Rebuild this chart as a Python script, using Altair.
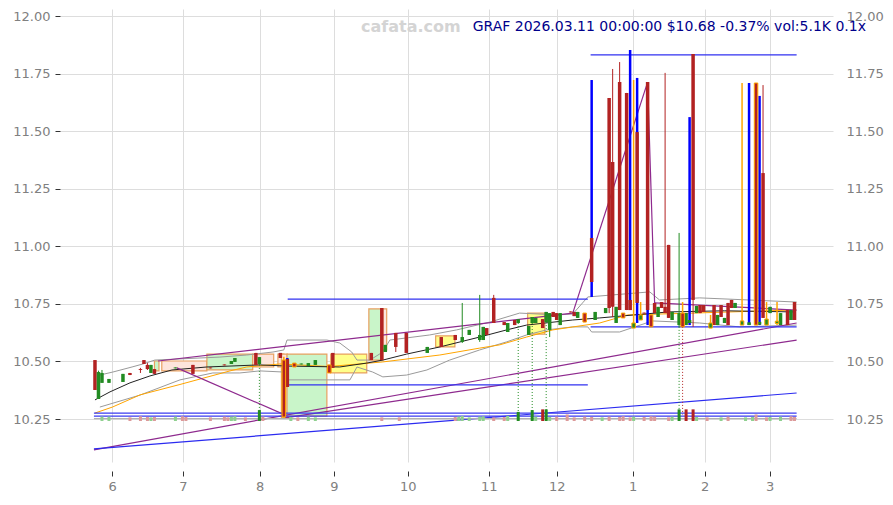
import altair as alt
import pandas as pd

# ---------------- intraday price bars (bar index, OHLC, marker kind) ----------------
# kind: n = normal, b = blue-flagged bar, o = orange-flagged bar
bar = [0, 1, 2, 4, 8, 10, 13, 14, 15, 16, 17, 23, 28, 33, 37, 39, 40, 46, 47,
       53, 54, 55, 57, 59, 61, 63, 67, 68, 79, 82, 83, 86, 89, 95, 99, 103, 105,
       107, 110, 111, 112, 114, 117, 118, 120, 121, 124, 125, 126, 128, 129, 130,
       131, 132, 133, 136, 137, 138, 140, 142, 143, 146, 147, 148, 149, 150, 151,
       152, 153, 154, 155, 156, 157, 158, 159, 160, 161, 162, 163, 164, 165, 167,
       168, 169, 170, 171, 172, 173, 174, 176, 177, 178, 179, 180, 181, 182, 183,
       185, 187, 189, 190, 191, 192, 193, 195, 196, 198, 199, 200]
open_ = [10.506, 10.337, 10.407, 10.407, 10.411, 10.450, 10.467, 10.506, 10.485, 10.450, 10.467, 10.470, 10.485, 10.474, 10.487, 10.489, 10.498, 10.537, 10.489,
         10.537, 10.506, 10.511, 10.493, 10.487, 10.480, 10.485, 10.485, 10.537, 10.537, 10.732, 10.541, 10.624, 10.624, 10.537, 10.606, 10.615, 10.585,
         10.615, 10.593, 10.593, 10.645, 10.776, 10.671, 10.628, 10.680, 10.667, 10.615, 10.667, 10.667, 10.684, 10.671, 10.637,
         10.715, 10.710, 10.658, 10.717, 10.715, 10.689, 10.710, 11.036, 10.680, 10.710, 11.644, 11.366, 10.667, 11.713, 10.710,
         11.666, 10.767, 10.645, 11.496, 10.680, 10.712, 11.713, 10.702, 10.754, 10.693, 10.758, 10.737, 11.006, 10.680, 10.658,
         10.710, 10.658, 10.667, 11.835, 10.710, 10.745, 10.745, 10.645, 10.745, 10.658, 10.745, 10.667, 10.754, 10.767, 10.732,
         10.658, 10.658, 11.709, 10.660, 11.318, 10.658, 10.710, 10.665, 10.658, 10.723, 10.680, 10.758]
high = [10.506, 10.460, 10.463, 10.424, 10.446, 10.450, 10.472, 10.506, 10.493, 10.485, 10.467, 10.474, 10.485, 10.474, 10.487, 10.502, 10.515, 10.537, 10.519,
        10.537, 10.520, 10.515, 10.493, 10.491, 10.493, 10.506, 10.485, 10.537, 10.537, 10.732, 10.572, 10.624, 10.624, 10.563, 10.606, 10.615, 10.754,
        10.637, 10.789, 10.650, 10.645, 10.789, 10.671, 10.667, 10.680, 10.684, 10.654, 10.693, 10.689, 10.684, 10.715, 10.710,
        10.715, 10.710, 10.710, 10.717, 10.715, 10.715, 10.710, 11.722, 10.715, 10.732, 11.644, 11.770, 10.737, 11.800, 10.710,
        11.666, 11.852, 11.722, 11.731, 10.758, 10.712, 11.713, 10.702, 10.754, 10.737, 10.758, 11.753, 11.006, 10.715, 11.058,
        10.758, 10.710, 11.561, 11.835, 10.741, 10.745, 10.745, 10.702, 10.745, 10.702, 10.745, 10.689, 10.754, 10.767, 10.754,
        11.709, 11.709, 11.709, 11.653, 11.700, 10.758, 10.737, 10.758, 10.710, 10.723, 10.723, 10.758]
low = [10.376, 10.337, 10.407, 10.407, 10.411, 10.441, 10.450, 10.489, 10.463, 10.450, 10.446, 10.470, 10.446, 10.470, 10.483, 10.489, 10.498, 10.485, 10.485,
       10.515, 10.255, 10.389, 10.476, 10.487, 10.480, 10.485, 10.450, 10.472, 10.506, 10.506, 10.541, 10.541, 10.537, 10.537, 10.563, 10.593, 10.580,
       10.615, 10.585, 10.593, 10.615, 10.667, 10.658, 10.628, 10.658, 10.667, 10.615, 10.667, 10.667, 10.645, 10.671, 10.606,
       10.693, 10.680, 10.658, 10.713, 10.697, 10.689, 10.671, 10.780, 10.680, 10.710, 10.710, 10.693, 10.667, 10.723, 10.689,
       10.723, 10.723, 10.645, 10.667, 10.680, 10.708, 10.658, 10.650, 10.710, 10.693, 10.732, 10.710, 10.689, 10.680, 10.650,
       10.650, 10.658, 10.658, 10.650, 10.710, 10.710, 10.715, 10.645, 10.658, 10.658, 10.693, 10.667, 10.658, 10.732, 10.732,
       10.658, 10.658, 10.658, 10.658, 10.689, 10.658, 10.710, 10.658, 10.658, 10.658, 10.680, 10.680]
close = [10.376, 10.454, 10.450, 10.424, 10.446, 10.441, 10.463, 10.489, 10.467, 10.485, 10.446, 10.474, 10.446, 10.470, 10.483, 10.502, 10.515, 10.485, 10.519,
         10.515, 10.259, 10.389, 10.476, 10.491, 10.493, 10.506, 10.450, 10.472, 10.506, 10.506, 10.572, 10.563, 10.537, 10.563, 10.563, 10.593, 10.606,
         10.637, 10.615, 10.650, 10.615, 10.667, 10.658, 10.667, 10.658, 10.684, 10.654, 10.693, 10.689, 10.645, 10.715, 10.710,
         10.693, 10.680, 10.710, 10.713, 10.697, 10.715, 10.671, 10.845, 10.715, 10.732, 10.732, 10.737, 10.737, 10.723, 10.689,
         10.723, 10.723, 10.667, 10.754, 10.702, 10.708, 10.723, 10.650, 10.710, 10.737, 10.732, 10.710, 10.689, 10.715, 10.710,
         10.650, 10.710, 10.680, 10.767, 10.741, 10.710, 10.715, 10.667, 10.658, 10.702, 10.693, 10.689, 10.658, 10.732, 10.754,
         10.676, 10.670, 10.658, 10.672, 10.689, 10.684, 10.737, 10.675, 10.710, 10.658, 10.723, 10.680]
kind = list("nnnnnnnnnnnnnnnnnnn"
            "bobonnnonnnnnnnnnn"
            "nnnnnnnnnnnnnbn"
            "nnnnbnobnnnnnno"
            "nbobonbobnnnnnn"
            "onbnnnnonnnnnnb"
            "obobnobonnbn")

# ---------------- volume (bar index, size in hundreds, direction) ----------------
vol_bar = [2, 4, 10, 13, 15, 16, 17, 23, 25, 26, 33, 37, 38, 39, 40, 43, 47, 48, 56, 58,
           61, 63, 82, 87, 103, 104, 105, 107, 110, 111, 114, 117, 118, 121, 125, 126, 128, 129,
           130, 132, 135, 137, 140, 142, 145, 147, 150, 151, 153, 154, 157, 159, 160, 164, 165,
           167, 169, 171, 172, 175, 179, 181, 186, 188, 189, 192, 193, 196, 199, 200]
vol = [1.2, 1.2, 1.0, 1.3, 1.1, 1.0, 1.1, 1.2, 1.3, 1.1, 1.0, 1.2, 1.0, 1.2, 1.3, 1.0, 3.0, 1.2, 1.1, 1.0,
       1.2, 1.0, 1.0, 1.0, 1.1, 1.2, 1.4, 1.0, 1.2, 1.3, 1.0, 1.1, 1.4, 2.5, 3.0, 1.2, 3.2, 3.2,
       1.1, 1.2, 1.8, 1.0, 1.2, 1.1, 1.0, 1.2, 1.1, 1.3, 1.0, 1.2, 1.1, 1.3, 1.2, 1.0, 1.2,
       3.2, 3.2, 3.2, 1.1, 1.0, 1.0, 1.2, 1.0, 1.1, 1.8, 1.0, 1.1, 1.2, 1.3, 1.1]
vol_dir = list("ggrrrgrgrrrrrggrgrgr"
               "ggrrrgggggrrggggrg"
               "grrrrrgrrrrgrrrrg"
               "grrgrgrggrrggrr")

# high-volume bars linked to their candles
spike_bar = [47, 121, 125, 129, 167, 168]
spike_top = [10.485, 10.667, 10.667, 10.671, 10.650, 10.650]
spike_dir = ["g", "g", "g", "g", "g", "r"]

# ---------------- indicator curves ----------------
ma_fast_bar = [0, 4.3, 10, 15.7, 22, 32, 47, 55, 70, 77.7, 82.3, 89.1, 98.6, 110, 117.7, 123.4,
               136.6, 144.3, 164, 180, 200]
ma_fast = [10.333, 10.368, 10.407, 10.437, 10.463, 10.476, 10.485, 10.480, 10.476, 10.493, 10.506,
           10.532, 10.563, 10.606, 10.637, 10.658, 10.680, 10.689, 10.715, 10.720, 10.715]
ma_slow_bar = [0, 5, 12.9, 24.3, 38.6, 43.4, 52.9, 67, 82.3, 98.6, 110, 115.7, 123.4, 130.9, 144.3,
               152.3, 171, 199]
ma_slow = [10.276, 10.302, 10.355, 10.400, 10.459, 10.476, 10.489, 10.478, 10.498, 10.528, 10.558,
           10.572, 10.606, 10.637, 10.667, 10.702, 10.710, 10.723]
band_up_bar = [1.4, 5.1, 10.6, 13.7, 17.1, 24.3, 35.7, 43.4, 50.9, 54, 54.9, 66.3, 70, 73.4, 74.9,
               78.6, 82.3, 84.3, 95.7, 103.4, 112.9, 121.4, 132, 136.6, 140.9, 158.6, 161.4, 172.9, 200.6]
band_up = [10.441, 10.454, 10.476, 10.489, 10.506, 10.511, 10.519, 10.528, 10.541, 10.550, 10.593,
           10.593, 10.580, 10.541, 10.506, 10.506, 10.541, 10.593, 10.615, 10.637, 10.671, 10.710,
           10.702, 10.706, 10.780, 10.802, 10.767, 10.776, 10.758]
band_lo_bar = [1.4, 12.9, 24.3, 33.7, 41.4, 47.1, 54, 54.9, 72.9, 74.9, 79.4, 82.3, 89.1, 94.9, 101.4,
               110, 117.7, 123.4, 129.1, 136.6, 140.9, 142, 150, 159.4, 172.9, 184.3, 200.6]
band_lo = [10.302, 10.354, 10.420, 10.450, 10.450, 10.459, 10.454, 10.420, 10.420, 10.476, 10.454,
           10.433, 10.441, 10.463, 10.506, 10.550, 10.585, 10.615, 10.637, 10.650, 10.650, 10.628,
           10.628, 10.676, 10.667, 10.650, 10.658]

# ---------------- straight studies (from bar/price to bar/price) ----------------
seg_name = ["trend_a", "trend_b", "channel", "swing", "swing", "swing", "swing",
            "trend_c", "floor", "floor", "range", "range", "range", "range", "base"]
seg_x1 = [-0.3, 54.3, 18, 23.4, 136.6, 158, 160, -0.3, -0.3, -0.3, 55.1, 55.1, 141.7, 141.7, -0.3]
seg_y1 = [10.116, 10.255, 10.502, 10.472, 10.710, 11.713, 10.754, 10.120, 10.276, 10.263,
          10.771, 10.398, 11.831, 10.650, 10.252]
seg_x2 = [200.6, 200.6, 136.6, 54.3, 158, 160, 200.6, 200.6, 200.6, 200.6, 140.9, 140.9, 200.6, 200.6, 200.6]
seg_y2 = [10.667, 10.593, 10.710, 10.268, 11.713, 10.754, 10.723, 10.363, 10.276, 10.263,
          10.771, 10.398, 11.831, 10.650, 10.252]

# ---------------- consolidation boxes ----------------
box_x1 = [17, 19.1, 32, 45.1, 52.3, 53.3, 54.9, 67.4, 78.3, 82.3, 97.4, 123.7]
box_x2 = [18.3, 32, 45.1, 51.1, 54, 55, 66.3, 77.7, 82.3, 83.4, 102.9, 128.6]
box_top = [10.502, 10.502, 10.532, 10.532, 10.532, 10.532, 10.532, 10.532, 10.728, 10.728, 10.611, 10.710]
box_bot = [10.459, 10.459, 10.463, 10.476, 10.476, 10.255, 10.263, 10.450, 10.506, 10.550, 10.563, 10.619]
box_kind = ["up", "down", "up", "down", "down", "down", "up", "flat", "up", "down", "flat", "flat"]

# ---------------- axes ----------------
hour_bar = [4.9, 25.1, 47.1, 68.3, 89.4, 112.6, 132, 153.7, 174.3, 192.9]
hour_label = ["6", "7", "8", "9", "10", "11", "12", "1", "2", "3"]
price_ticks = [10.25, 10.5, 10.75, 11.0, 11.25, 11.5, 11.75, 12.0]
title_text = "GRAF 2026.03.11 00:00:00 $10.68 -0.37% vol:5.1K 0.1x"
brand_text = "cafata.com"

X_DOMAIN = [-10, 211]
Y_DOMAIN = [10.0634, 12.0304]

GREEN = "#228b22"
RED = "#b22222"
ORANGE = "#ffa500"
BLUE = "#0000ff"
PURPLE = "#8e2a8e"
BODY = 3.5

label_expr = ("[" + ",".join(f"'{h}'" for h in hour_label) + "][indexof(["
              + ",".join(str(b) for b in hour_bar) + "], datum.value)]")

x_axis = alt.Axis(values=hour_bar, labelExpr=label_expr, title=None, orient="bottom",
                  offset=9, tickSize=5, tickColor="#333333", domain=False, grid=True,
                  gridColor="#dddddd", labelPadding=4)
y_axis = alt.Axis(values=price_ticks, format=".2f", title=None, orient="left", tickSize=5,
                  tickColor="#333333", domain=False, grid=True, gridColor="#dddddd",
                  labelPadding=5)
y_axis_right = alt.Axis(values=price_ticks, format=".2f", title=None, orient="right",
                        ticks=False, domain=False, grid=False, labelPadding=13)


def X(field="bar"):
    return alt.X(f"{field}:Q", axis=x_axis,
                 scale=alt.Scale(domain=X_DOMAIN, nice=False, zero=False, padding=0))


def Y(field):
    return alt.Y(f"{field}:Q", axis=y_axis,
                 scale=alt.Scale(domain=Y_DOMAIN, nice=False, zero=False, padding=0))


candles = pd.DataFrame({"bar": bar, "open": open_, "high": high, "low": low,
                        "close": close, "kind": kind})
volume = pd.DataFrame({"bar": vol_bar, "vol": vol, "dir": vol_dir})
spikes = pd.DataFrame({"bar": spike_bar, "top": spike_top, "dir": spike_dir,
                       "foot": [10.27] * len(spike_bar)})
boxes = pd.DataFrame({"x1": box_x1, "x2": box_x2, "top": box_top, "bot": box_bot, "kind": box_kind})
segs = pd.DataFrame({"name": seg_name, "x1": seg_x1, "y1": seg_y1, "x2": seg_x2, "y2": seg_y2,
                     "id": list(range(len(seg_name)))})

curves = pd.concat([
    pd.DataFrame({"series": "band_up", "bar": band_up_bar, "price": band_up}),
    pd.DataFrame({"series": "band_lo", "bar": band_lo_bar, "price": band_lo}),
    pd.DataFrame({"series": "ma_slow", "bar": ma_slow_bar, "price": ma_slow}),
    pd.DataFrame({"series": "ma_fast", "bar": ma_fast_bar, "price": ma_fast}),
], ignore_index=True)

up_cond = "datum.close >= datum.open"

box_layer = alt.Chart(boxes).mark_rect(stroke="#e8a060", strokeWidth=1.2).encode(
    x=X("x1"), x2="x2:Q", y=Y("top"), y2="bot:Q",
    fill=alt.Fill("kind:N", scale=alt.Scale(domain=["up", "down", "flat"],
                                            range=["#c9f5c9", "#fde5dc", "#ffff8a"]), legend=None),
)

curve_layer = alt.Chart(curves).mark_line(strokeWidth=1).encode(
    x=X(), y=Y("price"),
    color=alt.Color("series:N", scale=alt.Scale(domain=["band_up", "band_lo", "ma_slow", "ma_fast"],
                                                range=["#9a9a9a", "#9a9a9a", ORANGE, "#222222"]),
                    legend=None),
    detail="series:N",
)

seg_layer = alt.Chart(segs).mark_rule(strokeWidth=1.2).encode(
    x=X("x1"), x2="x2:Q", y=Y("y1"), y2="y2:Q",
    color=alt.Color("name:N", scale=alt.Scale(
        domain=["trend_a", "trend_b", "channel", "swing", "trend_c", "floor", "range", "base"],
        range=[PURPLE, PURPLE, PURPLE, PURPLE, "#2b2bf0", "#3a3af0", "#3030f0", "#b0b0b0"]),
        legend=None),
    detail="id:N",
)

spike_layer = alt.Chart(spikes).mark_rule(strokeWidth=1, strokeDash=[1, 2]).encode(
    x=X(), y=Y("top"), y2="foot:Q",
    color=alt.Color("dir:N", scale=alt.Scale(domain=["g", "r"], range=[GREEN, RED]), legend=None),
)

wick_n = alt.Chart(candles).transform_filter("datum.kind == 'n'").mark_rule(strokeWidth=1).encode(
    x=X(), y=Y("low"), y2="high:Q",
    color=alt.condition(up_cond, alt.value(GREEN), alt.value(RED)),
)
wick_b = alt.Chart(candles).transform_filter("datum.kind == 'b'").mark_rule(
    strokeWidth=2.5, color=BLUE).encode(x=X(), y=Y("low"), y2="high:Q")
wick_o = alt.Chart(candles).transform_filter("datum.kind == 'o'").mark_rule(
    strokeWidth=1.5, color=ORANGE).encode(x=X(), y=Y("low"), y2="high:Q")

body_plain = alt.Chart(candles).transform_filter("datum.kind != 'o'").mark_bar(size=BODY).encode(
    x=X(), y=Y("open"), y2="close:Q",
    color=alt.condition(up_cond, alt.value(GREEN), alt.value(RED)),
)
body_orange = alt.Chart(candles).transform_filter("datum.kind == 'o'").mark_bar(
    size=BODY, stroke=ORANGE, strokeWidth=1).encode(
    x=X(), y=Y("open"), y2="close:Q",
    color=alt.condition(up_cond, alt.value(GREEN), alt.value(RED)),
)

price_panel = alt.layer(box_layer, curve_layer, seg_layer, spike_layer,
                        wick_n, wick_b, wick_o, body_plain, body_orange
                        ).resolve_scale(color="independent", fill="independent")

right_axis = alt.Chart(candles).mark_point(opacity=0).encode(
    x=X(),
    y=alt.Y("close:Q", axis=y_axis_right,
            scale=alt.Scale(domain=Y_DOMAIN, nice=False, zero=False, padding=0)),
)

volume_layer = alt.Chart(volume).mark_bar(size=3).encode(
    x=X(),
    y=alt.Y("vol:Q", scale=alt.Scale(domain=[0, 3.3], range=[412, 400]), axis=None),
    color=alt.Color("shade:N", scale=alt.Scale(domain=["g", "r", "G", "R"],
                                               range=["#8fd08f", "#dc9a9a", GREEN, RED]),
                    legend=None),
).transform_calculate(
    shade="datum.vol >= 2.5 ? upper(datum.dir) : datum.dir"
)

brand = alt.Chart(pd.DataFrame({"t": [brand_text]})).mark_text(
    align="left", baseline="middle", font="DejaVu Sans", fontSize=16, fontWeight="bold",
    color="#d4d4d4").encode(text="t:N", x=alt.value(301), y=alt.value(18))

title = alt.Chart(pd.DataFrame({"t": [title_text]})).mark_text(
    align="right", baseline="middle", font="DejaVu Sans", fontSize=14,
    color="#00008b").encode(text="t:N", x=alt.value(806), y=alt.value(18))

chart = alt.layer(price_panel, right_axis, volume_layer, brand, title).resolve_scale(
    y="independent", color="independent"
).properties(
    width=773, height=453,
    autosize=alt.AutoSizeParams(type="none"),
    padding={"left": 60, "top": 9, "right": 60, "bottom": 43},
    background="white",
).configure_view(stroke=None).configure_axis(
    labelFont="DejaVu Sans", labelFontSize=13, labelColor="#808080",
)

chart.save("out.html", embed_options={"renderer": "svg", "actions": False})
